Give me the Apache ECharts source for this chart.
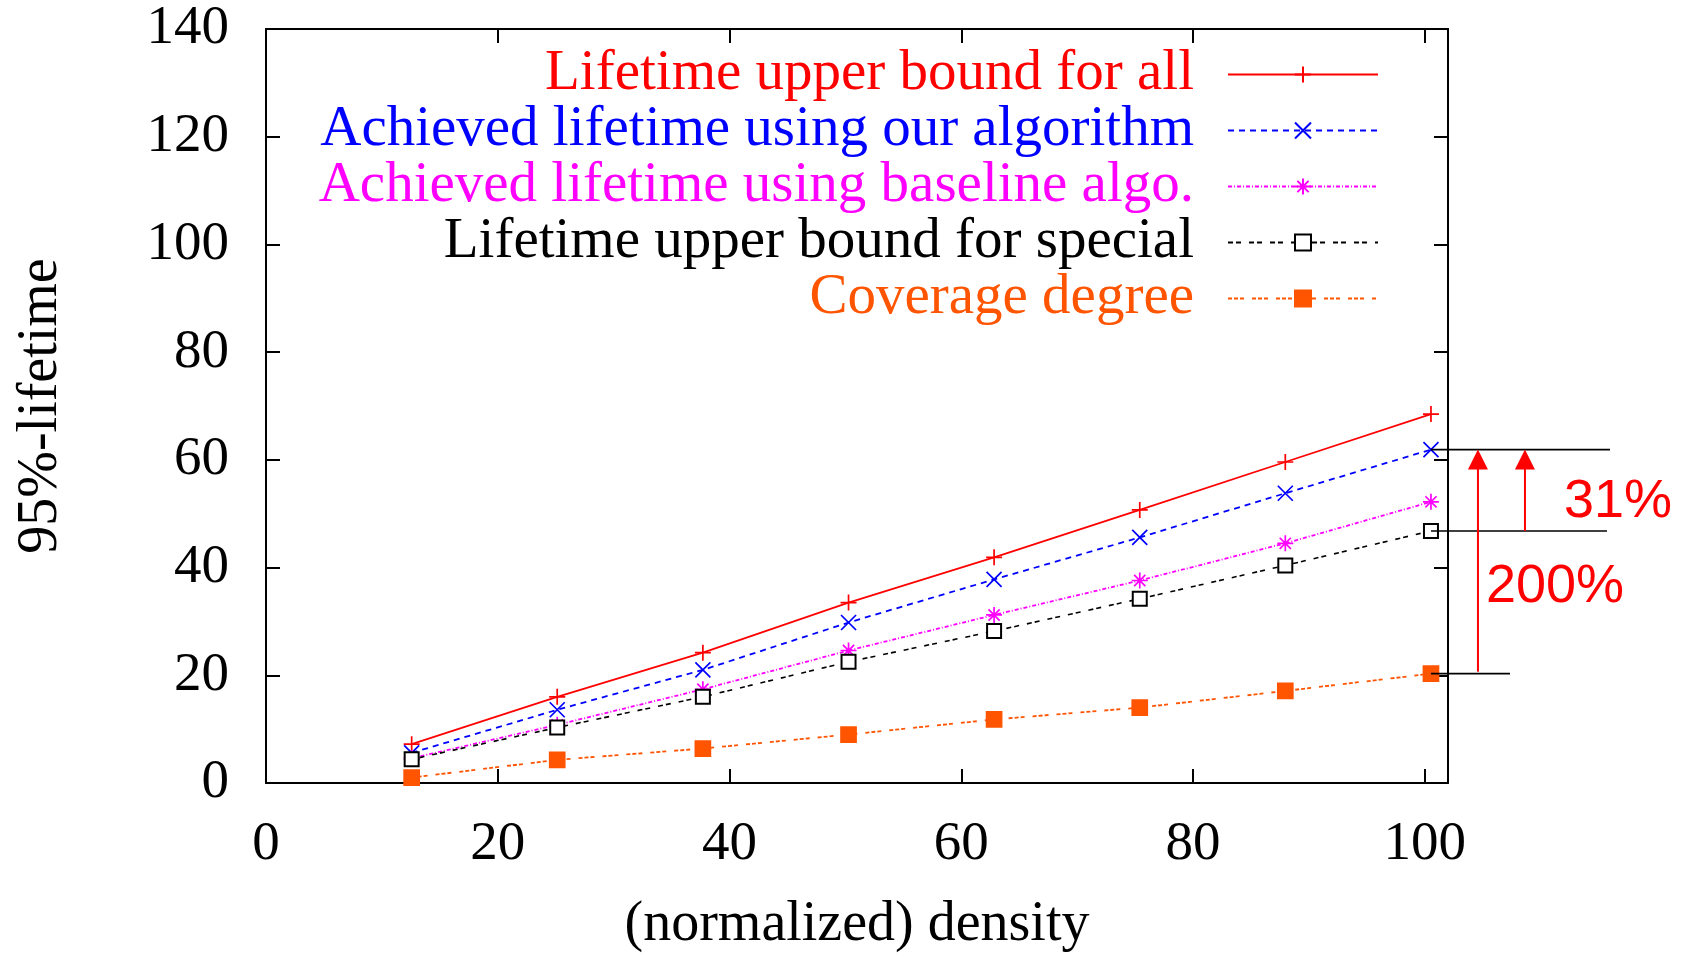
<!DOCTYPE html>
<html>
<head>
<meta charset="utf-8">
<script src="https://cdn.jsdelivr.net/npm/echarts@6/dist/echarts.min.js"></script>
<style>
html, body { margin: 0; padding: 0; background: #fff; }
#line-chart { width: 1683px; height: 955px; }
</style>
</head>
<body>
<div id="line-chart"></div>
<script>
// x: normalized density (multiples of 4*pi)
var density = [12.57, 25.13, 37.70, 50.27, 62.83, 75.40, 87.96, 100.53];
var upperAll = [7.2, 16.0, 24.2, 33.5, 41.9, 50.7, 59.6, 68.5];
var ourAlgo = [5.6, 13.6, 21.0, 29.8, 37.8, 45.6, 53.8, 61.9];
var baseline = [4.6, 10.8, 17.4, 24.6, 31.2, 37.6, 44.5, 52.2];
var upperSpecial = [4.4, 10.3, 16.0, 22.5, 28.2, 34.2, 40.4, 46.8];
var coverage = [1.0, 4.3, 6.4, 9.0, 11.8, 14.0, 17.1, 20.3];
var seriesNames = [
	'Lifetime upper bound for all',
	'Achieved lifetime using our algorithm',
	'Achieved lifetime using baseline algo.',
	'Lifetime upper bound for special',
	'Coverage degree'
];
var gainLabels = ['31%', '200%'];

var serif = '"Liberation Serif", "Times New Roman", serif';
var sans = '"Liberation Sans", Arial, sans-serif';

var PLUS = 'path://M5,0L5,10M0,5L10,5';
var CROSS = 'path://M0,0L10,10M10,0L0,10';
var STAR = 'path://M5,0L5,10M0,5L10,5M1.5,1.5L8.5,8.5M8.5,1.5L1.5,8.5';

function pairs(ys) {
	return density.map(function (x, i) { return [x, ys[i]]; });
}

function lineSeries(name, ys, color, symbol, size, dash, width) {
	return {
		name: name,
		type: 'line',
		data: pairs(ys),
		symbol: symbol,
		symbolSize: size,
		showAllSymbol: true,
		silent: true,
		lineStyle: { color: color, width: width, type: dash },
		itemStyle: { color: color, borderColor: color, borderWidth: 1.7 },
		emphasis: { disabled: true }
	};
}

function lineChart() {
	var chart = echarts.init(document.getElementById('line-chart'));
	var colors = ['#ff0000', '#0000ff', '#ff00ff', '#000000', '#ff5400'];
	var axisCommon = {
		type: 'value',
		interval: 20,
		axisLine: { show: true, onZero: false, lineStyle: { color: '#000', width: 2 } },
		axisTick: { show: true, inside: true, length: 14, lineStyle: { color: '#000', width: 2 } },
		splitLine: { show: false }
	};
	var option = {
		animation: false,
		backgroundColor: '#fff',
		grid: { left: 266, right: 235, top: 29, bottom: 172, outerBoundsMode: 'none', containLabel: false },
		xAxis: [
			Object.assign({}, axisCommon, {
				min: 0, max: 102, position: 'bottom',
				name: '(normalized) density',
				nameLocation: 'middle',
				nameGap: 114,
				nameTextStyle: { fontFamily: serif, fontSize: 56, color: '#000' },
				axisLabel: { fontFamily: serif, fontSize: 55, color: '#000', margin: 34, showMaxLabel: false }
			}),
			Object.assign({}, axisCommon, {
				min: 0, max: 102, position: 'top',
				axisLabel: { show: false }
			})
		],
		yAxis: [
			Object.assign({}, axisCommon, {
				min: 0, max: 140, position: 'left',
				name: '95%-lifetime',
				nameLocation: 'middle',
				nameGap: 197,
				nameTextStyle: { fontFamily: serif, fontSize: 56, color: '#000' },
				axisLabel: { fontFamily: serif, fontSize: 55, color: '#000', margin: 37 }
			}),
			Object.assign({}, axisCommon, {
				min: 0, max: 140, position: 'right',
				axisLabel: { show: false }
			})
		],
		legend: {
			orient: 'vertical',
			right: 304,
			top: 46,
			padding: 0,
			align: 'right',
			itemWidth: 150,
			itemHeight: 20,
			itemGap: -1,
			selectedMode: false,
			textStyle: { fontFamily: serif, fontSize: 57, lineHeight: 44, padding: [0, 29, 0, 0] },
			data: seriesNames.map(function (n, i) {
				return { name: n, textStyle: { color: colors[i] } };
			})
		},
		series: [
			lineSeries(seriesNames[0], upperAll, colors[0], PLUS, 16, 'solid', 1.8),
			lineSeries(seriesNames[1], ourAlgo, colors[1], CROSS, 15, [6, 5], 1.8),
			lineSeries(seriesNames[2], baseline, colors[2], STAR, 16, [4, 2, 1, 2], 1.8),
			lineSeries(seriesNames[3], upperSpecial, colors[3], 'emptyRect', 14, [5, 3, 5, 8], 1.6),
			lineSeries(seriesNames[4], coverage, colors[4], 'rect', 15, [4, 2, 4, 2, 4, 8], 1.8)
		]
	};
	chart.setOption(option);

	// annotation arrows at the last density point
	var last = density.length - 1;
	var bx = chart.convertToPixel({ xAxisIndex: 0 }, density[last]);
	var yTop = chart.convertToPixel({ yAxisIndex: 0 }, ourAlgo[last]);
	var yMid = chart.convertToPixel({ yAxisIndex: 0 }, upperSpecial[last]);
	var yBot = chart.convertToPixel({ yAxisIndex: 0 }, coverage[last]);
	var red = '#ff0000';
	function hline(y, len) {
		return { type: 'line', silent: true, z: 100, shape: { x1: bx, y1: y, x2: bx + len, y2: y }, style: { stroke: '#000', lineWidth: 1.6 } };
	}
	function arrow(x, y1, y2) {
		return [
			{ type: 'line', silent: true, z: 100, shape: { x1: x, y1: y1, x2: x, y2: y2 + 16 }, style: { stroke: red, lineWidth: 2 } },
			{ type: 'polygon', silent: true, z: 100, shape: { points: [[x, y2], [x - 10, y2 + 20], [x + 10, y2 + 20]] }, style: { fill: red } }
		];
	}
	var graphics = [
		hline(yTop, 179),
		hline(yMid, 176),
		hline(yBot, 79)
	].concat(arrow(bx + 47, yBot - 2, yTop), arrow(bx + 94, yMid, yTop));
	graphics.push({
		type: 'text', silent: true, z: 100,
		style: { text: gainLabels[0], x: bx + 133, y: (yTop + yMid) / 2 + 12, fill: red, fontFamily: sans, fontSize: 54, align: 'left', verticalAlign: 'middle' }
	});
	graphics.push({
		type: 'text', silent: true, z: 100,
		style: { text: gainLabels[1], x: bx + 55, y: yMid + 56, fill: red, fontFamily: sans, fontSize: 54, align: 'left', verticalAlign: 'middle' }
	});
	chart.setOption({ graphic: graphics });
}

lineChart();
</script>
</body>
</html>
